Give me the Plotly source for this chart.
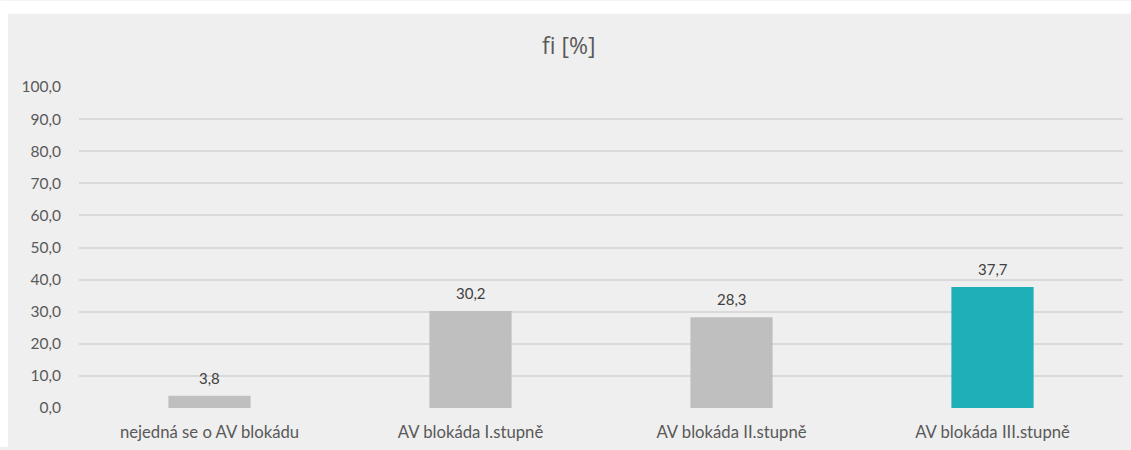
import plotly.graph_objects as go

categories = ["nejedná se o AV blokádu", "AV blokáda I.stupně", "AV blokáda II.stupně", "AV blokáda III.stupně"]
values = [3.8, 30.2, 28.3, 37.7]
bar_colors = ["#bfbfbf", "#bfbfbf", "#bfbfbf", "#1fafb8"]
tick_vals = [0, 10, 20, 30, 40, 50, 60, 70, 80, 90, 100]
title_text = "fi [%]"

W, H = 1131, 450
ML, MR, MT, MB = 79, 8, 87, 39
pw = W - ML - MR
ph = H - MT - MB

font_family = "Lato, Open Sans, sans-serif"
txt_color = "#595959"

fig = go.Figure()
fig.add_trace(go.Bar(
    x=categories, y=values,
    marker=dict(color=bar_colors, line=dict(width=0)),
    width=0.315,
    hoverinfo="x+y",
))

annotations = []
for c, v in zip(categories, values):
    annotations.append(dict(
        x=c, y=v, xref="x", yref="y", text=f"{v:.1f}".replace(".", ","),
        showarrow=False, yanchor="bottom", yshift=7,
        font=dict(size=15, color="#404040", family=font_family),
    ))
annotations.append(dict(
    x=(569 - ML) / pw, y=(H - 45 - MB) / ph, xref="paper", yref="paper",
    text=title_text, showarrow=False, xanchor="center", yanchor="middle",
    font=dict(size=23, color=txt_color, family="Open Sans, sans-serif"),
))


def px_x(v):
    return (v - ML) / pw


def px_y(v):
    return (H - v - MB) / ph


fig.update_layout(
    width=W, height=H,
    margin=dict(l=ML, r=MR, t=MT, b=MB, pad=0),
    paper_bgcolor="#efefef",
    plot_bgcolor="rgba(0,0,0,0)",
    separators=", ",
    showlegend=False,
    font=dict(family=font_family, color=txt_color, size=15),
    shapes=[
        dict(type="rect", xref="paper", yref="paper", layer="below",
             x0=px_x(0), x1=px_x(8), y0=px_y(H), y1=px_y(0),
             fillcolor="white", line=dict(width=0)),
        dict(type="rect", xref="paper", yref="paper", layer="below",
             x0=px_x(0), x1=px_x(W), y0=px_y(13), y1=px_y(0),
             fillcolor="white", line=dict(width=0)),
    ],
    annotations=annotations,
    xaxis=dict(
        showgrid=False, zeroline=False, showline=False, ticks="",
        tickfont=dict(size=16.7, color=txt_color), ticklabelstandoff=12,
    ),
    yaxis=dict(
        range=[0, 100], tickvals=tick_vals, tickformat=".1f",
        showgrid=True, gridcolor="#d9d9d9", gridwidth=1.6,
        zeroline=False, showline=False, ticks="",
        tickfont=dict(size=15.5, color=txt_color), ticklabelstandoff=17,
    ),
    bargap=0.685,
)

fig.write_html(
    "out.html",
    config={"displayModeBar": False},
    post_script=(
        "document.documentElement.style.overflow='hidden';"
        "document.documentElement.style.background='#efefef';"
        "document.body.style.margin='0';"
        "document.body.style.overflow='hidden';"
        "document.body.style.background='#efefef';"
    ),
)
